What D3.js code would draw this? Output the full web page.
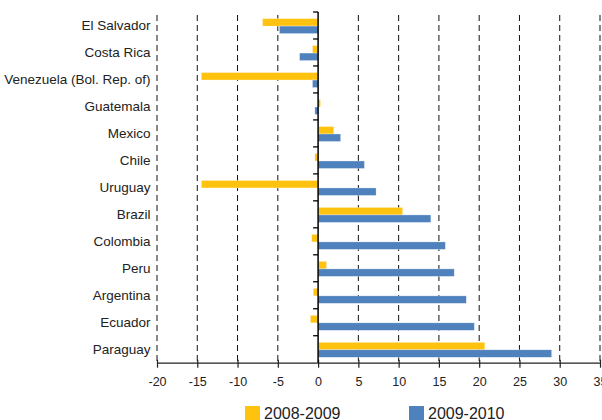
<!DOCTYPE html>
<html>
<head>
<meta charset="utf-8">
<script src="https://cdn.jsdelivr.net/npm/d3@7"></script>
<style>
  html, body { margin: 0; padding: 0; background: #fff; }
  svg { display: block; font-family: "Liberation Sans", Arial, sans-serif; }
</style>
</head>
<body>
<svg id="chart" width="602" height="420"></svg>
<script>
// Annual change by country, two periods
const countries = ["El Salvador", "Costa Rica", "Venezuela (Bol. Rep. of)", "Guatemala", "Mexico",
  "Chile", "Uruguay", "Brazil", "Colombia", "Peru", "Argentina", "Ecuador", "Paraguay"];
const series = ["2008-2009", "2009-2010"];
const values2008_2009 = [-6.9, -0.7, -14.5, 0.3, 1.95, -0.4, -14.5, 10.5, -0.8, 1.05, -0.6, -0.95, 20.7];
const values2009_2010 = [-4.8, -2.3, -0.7, -0.4, 2.8, 5.75, 7.2, 14.0, 15.8, 16.9, 18.4, 19.4, 29.0];
const xTicks = [-20, -15, -10, -5, 0, 5, 10, 15, 20, 25, 30, 35];
const xTickLabels = ["-20", "-15", "-10", "-5", "0", "5", "10", "15", "20", "25", "30", "35"];
const colors = ["#FFC20E", "#4F81BD"];

const rows = countries.map((c, i) => ({
  country: c,
  vals: [
    { key: series[0], v: values2008_2009[i] },
    { key: series[1], v: values2009_2010[i] }
  ]
}));

const svg = d3.select("#chart");
const plotLeft = 157, plotRight = 600, plotTop = 12, plotBottom = 362.7;

const x = d3.scaleLinear().domain([-20, 35]).range([plotLeft, plotRight]);
const y = d3.scaleBand().domain(countries).range([plotTop, plotBottom]).padding(0);
const ySub = d3.scaleBand().domain(series).range([0, y.bandwidth()])
  .paddingInner(0).paddingOuter(0.8).align(0.55);

// dashed vertical gridlines
svg.append("g")
  .selectAll("line")
  .data(xTicks.filter(t => t !== 0))
  .join("line")
  .attr("x1", d => x(d)).attr("x2", d => x(d))
  .attr("y1", plotTop + 3).attr("y2", plotBottom)
  .attr("stroke", "#111")
  .attr("stroke-width", 1)
  .attr("stroke-dasharray", "6,4");

// bars
const groups = svg.append("g")
  .selectAll("g")
  .data(rows)
  .join("g")
  .attr("transform", d => `translate(0,${y(d.country)})`);

groups.selectAll("rect")
  .data(d => d.vals)
  .join("rect")
  .attr("x", d => x(Math.min(0, d.v)))
  .attr("width", d => Math.abs(x(d.v) - x(0)))
  .attr("y", d => ySub(d.key))
  .attr("height", ySub.bandwidth())
  .attr("fill", (d, i) => colors[i])
  .attr("stroke", "#ffffff")
  .attr("stroke-opacity", 0.5)
  .attr("stroke-width", 0.6);

// bottom axis
const xAxis = d3.axisBottom(x)
  .tickValues(xTicks)
  .tickSize(5)
  .tickSizeOuter(0)
  .tickFormat((d, i) => xTickLabels[i]);
const gx = svg.append("g")
  .attr("transform", `translate(0,${plotBottom})`)
  .call(xAxis)
  .attr("font-family", "Liberation Sans, Arial, sans-serif")
  .attr("font-size", "12.5px");
gx.select(".domain").attr("stroke", "#222").attr("stroke-width", 1.3);
gx.selectAll(".tick line").attr("stroke", "#222").attr("y1", -3).attr("stroke-width", 1.2);
gx.selectAll(".tick text")
  .attr("fill", "#222")
  .attr("y", 0)
  .attr("dy", "23.3px");

// vertical zero axis with category boundary ticks
const zeroX = x(0);
svg.append("line")
  .attr("x1", zeroX).attr("x2", zeroX)
  .attr("y1", plotTop).attr("y2", plotBottom)
  .attr("stroke", "#000").attr("stroke-width", 1.5);
const boundaries = countries.map(c => y(c));
svg.append("g")
  .selectAll("line")
  .data(boundaries)
  .join("line")
  .attr("x1", zeroX - 5).attr("x2", zeroX)
  .attr("y1", d => d).attr("y2", d => d)
  .attr("stroke", "#000").attr("stroke-width", 1.3);

// category labels
svg.append("g")
  .selectAll("text")
  .data(countries)
  .join("text")
  .attr("x", 150.5)
  .attr("y", d => y(d) + y.bandwidth() / 2)
  .attr("dy", "0.36em")
  .attr("text-anchor", "end")
  .attr("font-size", "13.5px")
  .attr("fill", "#222")
  .text(d => d);

// legend
const legendItems = [
  { label: series[0], color: colors[0], x: 245 },
  { label: series[1], color: colors[1], x: 409 }
];
const lg = svg.append("g")
  .selectAll("g")
  .data(legendItems)
  .join("g")
  .attr("transform", d => `translate(${d.x},406)`);
lg.append("rect")
  .attr("width", 15).attr("height", 15)
  .attr("fill", d => d.color);
lg.append("text")
  .attr("x", 19).attr("y", 13)
  .attr("font-size", "16px")
  .attr("fill", "#222")
  .text(d => d.label);
</script>
</body>
</html>
